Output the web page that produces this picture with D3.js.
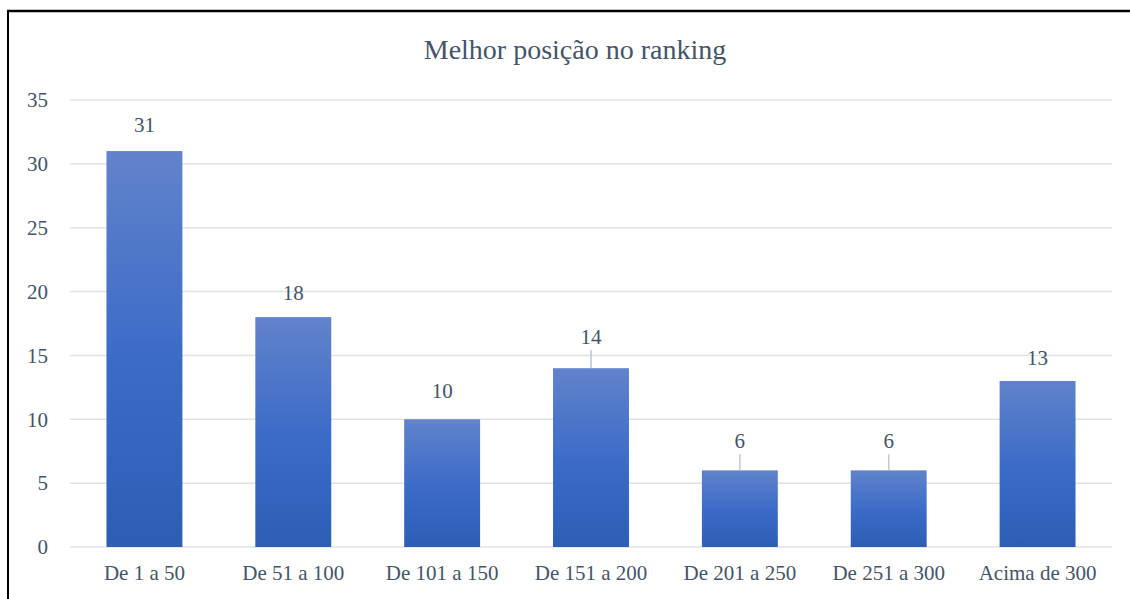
<!DOCTYPE html>
<html><head><meta charset="utf-8">
<script src="https://cdn.jsdelivr.net/npm/d3@7"></script>
</head><body style="margin:0">
<svg id="c" width="1130" height="599" style="display:block;font-family:'Liberation Serif'"></svg>
<script>
const categories = ["De 1 a 50","De 51 a 100","De 101 a 150","De 151 a 200","De 201 a 250","De 251 a 300","Acima de 300"];
const values = [31,18,10,14,6,6,13];
const yTicks = [0,5,10,15,20,25,30,35];
const title = "Melhor posição no ranking";
// label offsets (px above bar top) and whether a leader line is drawn
const labelLift = [19,17,21,24,22,22,16];
const leader = [false,false,false,true,true,true,false];

const svg = d3.select("#c");
const font = "Liberation Serif";
const textCol = "#44546a";
const m = {l:70, r:1112, t:100, b:547};

// frame
svg.append("line").attr("x1",7).attr("x2",1130).attr("y1",11).attr("y2",11).attr("stroke","#000").attr("stroke-width",2.5);
svg.append("line").attr("x1",8).attr("x2",8).attr("y1",10).attr("y2",599).attr("stroke","#000").attr("stroke-width",2);

const x = d3.scaleBand().domain(categories).range([m.l,m.r]).paddingInner(0.49).paddingOuter(0.245);
const y = d3.scaleLinear().domain([0,35]).range([m.b,m.t]);

const defs = svg.append("defs");
const g = defs.append("linearGradient").attr("id","bg").attr("x1",0).attr("y1",0).attr("x2",0).attr("y2",1);
g.append("stop").attr("offset","0%").attr("stop-color","#6183cb");
g.append("stop").attr("offset","50%").attr("stop-color","#3d6cc8");
g.append("stop").attr("offset","100%").attr("stop-color","#2e5db6");

// gridlines
svg.append("g").selectAll("line").data(yTicks).join("line")
  .attr("x1",m.l).attr("x2",m.r).attr("y1",d=>y(d)).attr("y2",d=>y(d))
  .attr("stroke","#dfe3e8").attr("stroke-width",1.5);

// y axis labels
const yAxis = d3.axisLeft(y).tickValues(yTicks).tickSize(0).tickPadding(0);
const ya = svg.append("g").attr("transform","translate(48,0)").call(yAxis);
ya.attr("font-family",font).attr("font-size",21);
ya.select(".domain").remove();
ya.selectAll("text").attr("fill",textCol).attr("dy","0.32em");

// bars
svg.append("g").selectAll("rect").data(values).join("rect")
  .attr("x",(d,i)=>x(categories[i])).attr("width",x.bandwidth())
  .attr("y",d=>y(d)).attr("height",d=>y(0)-y(d))
  .attr("fill","url(#bg)");

// leader lines
svg.append("g").selectAll("line").data(values.map((v,i)=>({v,i})).filter(d=>leader[d.i])).join("line")
  .attr("x1",d=>x(categories[d.i])+x.bandwidth()/2).attr("x2",d=>x(categories[d.i])+x.bandwidth()/2)
  .attr("y1",d=>y(d.v)-labelLift[d.i]+6).attr("y2",d=>y(d.v))
  .attr("stroke","#bfc6cf").attr("stroke-width",1.5);

// value labels
svg.append("g").attr("font-family",font).attr("font-size",21).selectAll("text").data(values).join("text")
  .attr("x",(d,i)=>x(categories[i])+x.bandwidth()/2)
  .attr("y",(d,i)=>y(d)-labelLift[i])
  .attr("text-anchor","middle").attr("fill",textCol)
  .text(d=>d);

// x axis labels
const xAxis = d3.axisBottom(x).tickSize(0).tickPadding(0);
const xa = svg.append("g").attr("transform","translate(0,565)").call(xAxis);
xa.attr("font-family",font).attr("font-size",21);
xa.select(".domain").remove();
xa.selectAll("text").attr("fill",textCol).attr("dy","0.71em");

// title
svg.append("text").attr("x",575).attr("y",59).attr("text-anchor","middle")
  .attr("font-family",font).attr("font-size",28).attr("fill",textCol).text(title);
</script>
</body></html>
